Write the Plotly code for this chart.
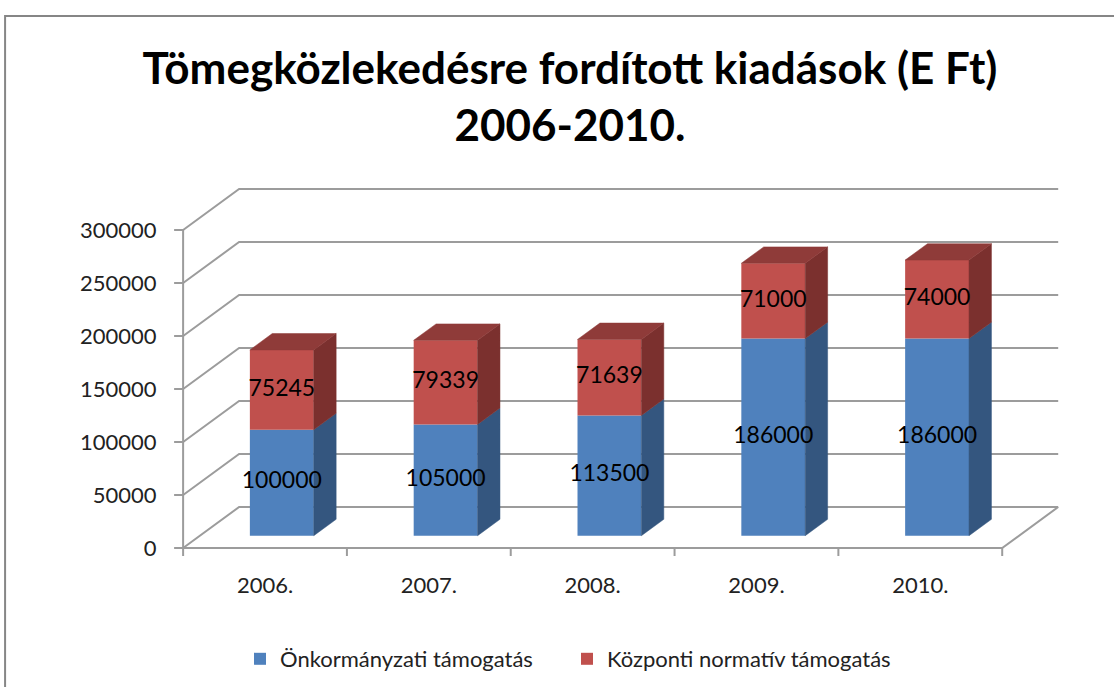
import plotly.graph_objects as go

# ---------------- data ----------------
years = ["2006.", "2007.", "2008.", "2009.", "2010."]
onkormanyzati = [100000, 105000, 113500, 186000, 186000]
kozponti = [75245, 79339, 71639, 71000, 74000]
y_ticks = [0, 50000, 100000, 150000, 200000, 250000, 300000]
series_names = ["Önkormányzati támogatás", "Központi normatív támogatás"]
title_text = "Tömegközlekedésre fordított kiadások (E Ft)<br>2006-2010."

# ---------------- geometry / style ----------------
W, H = 1114, 687
PXX = 163.8            # px per category unit
PXY = 1.06 / 1000      # px per value unit
X0_PX, Y0_PX = 183, 548
x_lo, x_hi = -0.08, 5.42
T_PX, B_PX = 150, 570
ml = X0_PX + x_lo * PXX
mr = W - (X0_PX + x_hi * PXX)
y_lo = -(B_PX - Y0_PX) / PXY
y_hi = (Y0_PX - T_PX) / PXY

DX = 56 / PXX          # full depth offset (x units)
DY = 41 / PXY          # full depth offset (value units)
D0, D1 = 0.3, 0.7      # bar depth span (fraction)
BW = 0.39              # bar width (category units)

GRID = "#9C9C9C"
FONT = "Lato"
BLUE, BLUE_SIDE = "#4F81BD", "#34567F"
RED, RED_SIDE, RED_TOP = "#C0504D", "#7B302E", "#8F3B39"

n = len(years)
ncat = n
fig = go.Figure()

shapes = []
for v in y_ticks:
    shapes.append(dict(type="path", xref="x", yref="y", layer="below",
                       path=f"M 0,{v} L {DX},{v+DY} L {ncat+DX},{v+DY}",
                       line=dict(color=GRID, width=2)))
shapes.append(dict(type="path", xref="x", yref="y", layer="below",
                   path=f"M 0,0 L {ncat},0 L {ncat+DX},{DY}",
                   line=dict(color=GRID, width=2)))
shapes.append(dict(type="line", xref="x", yref="y", layer="below",
                   x0=0, y0=0, x1=0, y1=y_ticks[-1],
                   line=dict(color=GRID, width=2)))
for v in y_ticks:
    shapes.append(dict(type="line", xref="x", yref="y", layer="below",
                       x0=-9 / PXX, y0=v, x1=0, y1=v,
                       line=dict(color=GRID, width=2)))
for i in range(ncat + 1):
    shapes.append(dict(type="line", xref="x", yref="y", layer="below",
                       x0=i, y0=0, x1=i, y1=-8 / PXY,
                       line=dict(color=GRID, width=2)))
pw = W - ml - mr
ph = B_PX - T_PX
def paper_x(px):
    return (px - ml) / pw
def paper_y(py):
    return (B_PX - py) / ph
shapes.append(dict(type="rect", xref="paper", yref="paper", layer="below",
                   x0=paper_x(5), y0=paper_y(H + 20), x1=paper_x(W + 20), y1=paper_y(16),
                   line=dict(color="#868686", width=2)))

# ---------------- bars ----------------
centers = [i + 0.5 + D0 * DX for i in range(n)]
base_off = D0 * DY
blue_base = [base_off for _ in range(n)]
red_base = [base_off + b for b in onkormanyzati]

fig.add_trace(go.Bar(x=centers, y=onkormanyzati, base=blue_base, width=BW,
                     marker=dict(color=BLUE, line=dict(width=0)),
                     name=series_names[0]))
fig.add_trace(go.Bar(x=centers, y=kozponti, base=red_base, width=BW,
                     marker=dict(color=RED, line=dict(width=0)),
                     name=series_names[1]))

bd = D1 - D0
def side_polys(bottoms, heights):
    xs, ys = [], []
    for c, b, h in zip(centers, bottoms, heights):
        xr = c + BW / 2
        t = b + h
        xs += [xr, xr + bd * DX, xr + bd * DX, xr, xr, None]
        ys += [b, b + bd * DY, t + bd * DY, t, b, None]
    return xs, ys

def top_polys(bottoms, heights):
    xs, ys = [], []
    for c, b, h in zip(centers, bottoms, heights):
        xl, xr = c - BW / 2, c + BW / 2
        t = b + h
        xs += [xl, xr, xr + bd * DX, xl + bd * DX, xl, None]
        ys += [t, t, t + bd * DY, t + bd * DY, t, None]
    return xs, ys

for bottoms, heights, side_c in [(blue_base, onkormanyzati, BLUE_SIDE),
                                 (red_base, kozponti, RED_SIDE)]:
    sx, sy = side_polys(bottoms, heights)
    fig.add_trace(go.Scatter(x=sx, y=sy, mode="lines", fill="toself",
                             fillcolor=side_c, line=dict(color=side_c, width=0.5),
                             showlegend=False, hoverinfo="skip"))
tx, ty = top_polys(red_base, kozponti)
fig.add_trace(go.Scatter(x=tx, y=ty, mode="lines", fill="toself",
                         fillcolor=RED_TOP, line=dict(color=RED_TOP, width=0.5),
                         showlegend=False, hoverinfo="skip"))

lab_x = centers + centers
lab_y = [b + h / 2 for b, h in zip(blue_base, onkormanyzati)] + \
        [b + h / 2 for b, h in zip(red_base, kozponti)]
lab_t = [str(v) for v in onkormanyzati] + [str(v) for v in kozponti]
fig.add_trace(go.Scatter(x=lab_x, y=lab_y, mode="text", text=lab_t,
                         textfont=dict(family=FONT, size=23, color="black"),
                         showlegend=False, hoverinfo="skip", cliponaxis=False))

fig.update_layout(
    width=W, height=H,
    margin=dict(l=ml, r=mr, t=T_PX, b=H - B_PX, autoexpand=False),
    paper_bgcolor="white", plot_bgcolor="white",
    barmode="overlay",
    shapes=shapes,
    title=dict(text=title_text, x=570 / W, xanchor="center",
               y=1 - 84 / H, yanchor="top",
               font=dict(family=FONT, size=44, color="black", weight="bold")),
    xaxis=dict(range=[x_lo, x_hi], tickvals=[i + 0.5 for i in range(n)], ticktext=years,
               showgrid=False, zeroline=False, showline=False, ticks="",
               tickfont=dict(family=FONT, size=22, color="#222222"), automargin=False,
               fixedrange=True),
    yaxis=dict(range=[y_lo, y_hi], tickvals=y_ticks, ticktext=[str(v) for v in y_ticks],
               showgrid=False, zeroline=False, showline=False, ticks="outside",
               ticklen=8, tickcolor="rgba(0,0,0,0)",
               tickfont=dict(family=FONT, size=22, color="#222222"), automargin=False,
               fixedrange=True),
    legend=dict(orientation="h", x=240 / W, xanchor="left", xref="container",
                y=1 - 638 / H, yref="container", yanchor="top",
                font=dict(family=FONT, size=22, color="#222222"),
                entrywidth=282, entrywidthmode="pixels",
                bgcolor="rgba(0,0,0,0)"),
    showlegend=True,
)

fig.write_html("out.html")
